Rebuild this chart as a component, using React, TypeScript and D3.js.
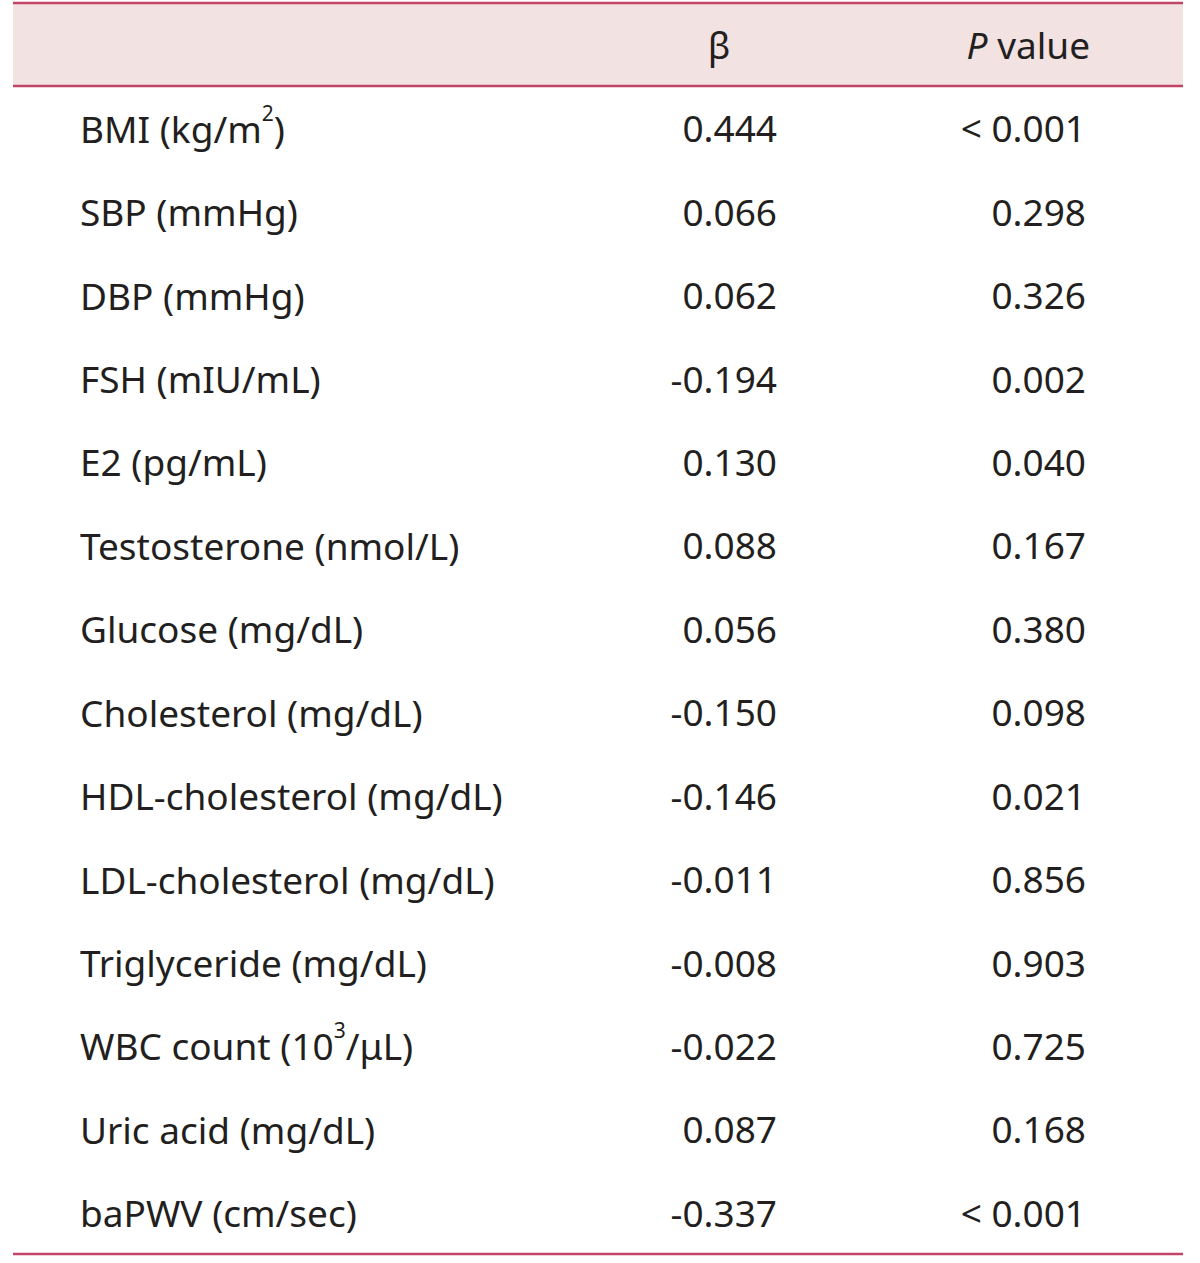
import React from "react";
import * as d3 from "d3";

const labels = [
  "BMI (kg/m|2|)",
  "SBP (mmHg)",
  "DBP (mmHg)",
  "FSH (mIU/mL)",
  "E2 (pg/mL)",
  "Testosterone (nmol/L)",
  "Glucose (mg/dL)",
  "Cholesterol (mg/dL)",
  "HDL-cholesterol (mg/dL)",
  "LDL-cholesterol (mg/dL)",
  "Triglyceride (mg/dL)",
  "WBC count (10|3|/μL)",
  "Uric acid (mg/dL)",
  "baPWV (cm/sec)",
];
const betas = ["0.444", "0.066", "0.062", "-0.194", "0.130", "0.088", "0.056", "-0.150", "-0.146", "-0.011", "-0.008", "-0.022", "0.087", "-0.337"];
const pvalues = ["< 0.001", "0.298", "0.326", "0.002", "0.040", "0.167", "0.380", "0.098", "0.021", "0.856", "0.903", "0.725", "0.168", "< 0.001"];

const W = 1200;
const H = 1263;
const FONT = "'Noto Sans', 'Open Sans', sans-serif";
const FS = 37;
const LINE = "#c24466";
const FILL = "#f2e2e2";
const TEXT = "#231f20";

function Label({ s, x, y }: { s: string; x: number; y: number }) {
  const parts = s.split("|");
  return (
    <text x={x} y={y} dominantBaseline="central" fontSize={FS} fill={TEXT} fontFamily={FONT}>
      {parts.map((p, i) =>
        i % 2 === 1 ? (
          <tspan key={i} fontSize={21} dy={-15}>{p}</tspan>
        ) : (
          <tspan key={i} dy={i > 0 ? 15 : 0}>{p}</tspan>
        )
      )}
    </text>
  );
}

export default function App() {
  const y = d3.scaleBand<string>().domain(labels).range([86, 1254]);
  const bw = y.bandwidth();
  return (
    <svg width={W} height={H} style={{ display: "block", position: "absolute", left: 0, top: 0 }}>
      <rect x={0} y={0} width={W} height={H} fill="#fff" />
      <rect x={13} y={3} width={1170} height={83} fill={FILL} />
      <line x1={13} x2={1183} y1={3} y2={3} stroke={LINE} strokeWidth={2.5} />
      <line x1={13} x2={1183} y1={86} y2={86} stroke={LINE} strokeWidth={2.5} />
      <line x1={13} x2={1183} y1={1254} y2={1254} stroke={LINE} strokeWidth={2.5} />
      <text x={719} y={44} textAnchor="middle" dominantBaseline="central" fontSize={FS} fill={TEXT} fontFamily={FONT}>β</text>
      <text x={1090} y={44} textAnchor="end" dominantBaseline="central" fontSize={FS} fill={TEXT} fontFamily={FONT}>
        <tspan fontStyle="italic">P</tspan> value
      </text>
      {labels.map((l, i) => {
        const cy = (y(l) as number) + bw / 2;
        return (
          <g key={l}>
            <Label s={l} x={80} y={cy} />
            <text x={777} y={cy} textAnchor="end" dominantBaseline="central" fontSize={FS} fill={TEXT} fontFamily={FONT}>{betas[i]}</text>
            <text x={1086} y={cy} textAnchor="end" dominantBaseline="central" fontSize={FS} fill={TEXT} fontFamily={FONT}>{pvalues[i]}</text>
          </g>
        );
      })}
    </svg>
  );
}
